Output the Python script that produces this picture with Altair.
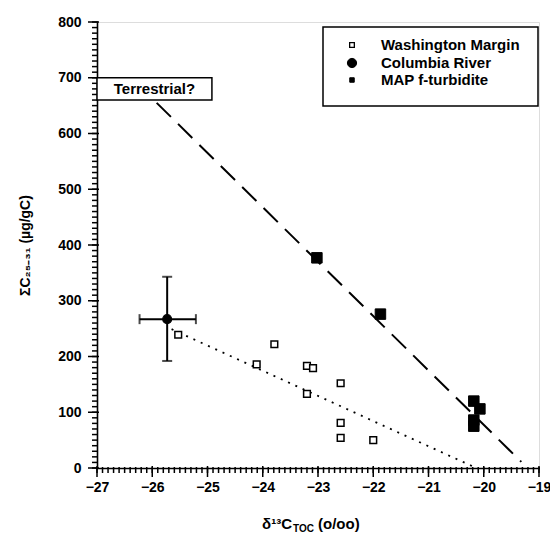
import altair as alt
import pandas as pd

# ---- data ----
wm_x = [-25.53, -24.11, -23.79, -23.20, -23.09, -23.20, -22.59, -22.59, -22.59, -22.00]
wm_y = [239, 186, 222, 183, 179, 133, 152, 81, 54, 50]

map_x = [-23.02, -21.87, -20.18, -20.07, -20.18, -20.18]
map_y = [377, 276, 120, 106, 86, 75]

cr_x = [-25.73]
cr_y = [267]
cr_xlo = [-26.23]
cr_xhi = [-25.21]
cr_ylo = [192]
cr_yhi = [343]

dash_x = [-25.92, -19.32]
dash_y = [655, 11]
dot_x = [-25.65, -20.18]
dot_y = [249, 2]

series = ["Washington Margin", "Columbia River", "MAP f-turbidite"]

box_x = [-27.0]
box_x2 = [-24.92]
box_y = [660]
box_y2 = [700]
box_label = ["Terrestrial?"]

# tick values (axis definition)
x_major = list(range(-27, -18))
x_minor = [round(-27 + i * 0.1, 1) for i in range(81)]
y_major = list(range(0, 801, 100))
y_minor = list(range(0, 801, 10))

FONT = "Liberation Sans"
W, H = 442, 446
X0, X1, Y0, Y1 = -27, -19, 0, 800
PX_X = (X1 - X0) / W   # data units per pixel
PX_Y = (Y1 - Y0) / H

# ---- tables ----
pts = pd.DataFrame({
    "x": wm_x + cr_x + map_x,
    "y": wm_y + cr_y + map_y,
    "series": [series[0]] * len(wm_x) + [series[1]] * len(cr_x) + [series[2]] * len(map_x),
})
err = pd.DataFrame({"x": cr_x, "y": cr_y, "xlo": cr_xlo, "xhi": cr_xhi, "ylo": cr_ylo, "yhi": cr_yhi})
dash_df = pd.DataFrame({"x": dash_x, "y": dash_y})
dot_df = pd.DataFrame({"x": dot_x, "y": dot_y})
box_df = pd.DataFrame({"x": box_x, "x2": box_x2, "y": box_y, "y2": box_y2, "label": box_label})
box_df["xc"] = (box_df["x"] + box_df["x2"]) / 2
box_df["yc"] = (box_df["y"] + box_df["y2"]) / 2
one = pd.DataFrame({"k": [0]})


def xtick_df(vals, out_px, in_px):
    return pd.DataFrame({"tx": [float(v) for v in vals],
                         "a": [Y0 + in_px * PX_Y] * len(vals),
                         "b": [Y0 - out_px * PX_Y] * len(vals)})


def ytick_df(vals, out_px, in_px):
    return pd.DataFrame({"ty": [float(v) for v in vals],
                         "a": [X0 + in_px * PX_X] * len(vals),
                         "b": [X0 - out_px * PX_X] * len(vals)})


xscale = alt.Scale(domain=[X0, X1], nice=False, zero=False)
yscale = alt.Scale(domain=[Y0, Y1], nice=False)

xaxis = alt.Axis(
    orient="bottom", values=x_major, title=None, format="d", ticks=False,
    labelOverlap=False, labelFlush=False, grid=False,
    labelFont=FONT, labelFontWeight="bold", labelFontSize=14, labelColor="black", labelPadding=12,
    domainColor="black", domainWidth=1.6,
)
yaxis = alt.Axis(
    orient="left", values=y_major, title="ΣC₂₅₋₃₁ (µg/gC)", format="d", ticks=False,
    labelOverlap=False, labelFlush=False, grid=False,
    labelFont=FONT, labelFontWeight="bold", labelFontSize=14, labelColor="black", labelPadding=16,
    titleFont=FONT, titleFontWeight="bold", titleFontSize=14, titleColor="black", titlePadding=25,
    domainColor="black", domainWidth=1.6,
)

X = alt.X("x:Q", scale=xscale, axis=xaxis)
Y = alt.Y("y:Q", scale=yscale, axis=yaxis)


def xticks(df):
    return alt.Chart(df).mark_rule(color="black", strokeWidth=1.5, clip=False).encode(
        x=alt.X("tx:Q", scale=xscale, axis=xaxis),
        y=alt.Y("a:Q", scale=yscale, axis=yaxis), y2="b:Q")


def yticks(df):
    return alt.Chart(df).mark_rule(color="black", strokeWidth=1.5, clip=False).encode(
        y=alt.Y("ty:Q", scale=yscale, axis=yaxis),
        x=alt.X("a:Q", scale=xscale, axis=xaxis), x2="b:Q")


tick_layers = [
    xticks(xtick_df(x_major, 9, 2)), xticks(xtick_df(x_minor, 5, 1)),
    yticks(ytick_df(y_major, 9, 2)), yticks(ytick_df(y_minor, 5, 1)),
]

dashed = alt.Chart(dash_df).mark_line(color="black", strokeWidth=2, strokeDash=[20, 10]).encode(x=X, y=Y)
dotted = alt.Chart(dot_df).mark_line(color="black", strokeWidth=1.8, strokeDash=[2, 6]).encode(x=X, y=Y)

box = alt.Chart(box_df).mark_rect(fill="white", stroke="black", strokeWidth=1.5).encode(
    x=X, x2="x2:Q", y=Y, y2="y2:Q")
box_text = alt.Chart(box_df).mark_text(font=FONT, fontWeight="bold", fontSize=15, color="black").encode(
    x=alt.X("xc:Q", scale=xscale, axis=xaxis), y=alt.Y("yc:Q", scale=yscale, axis=yaxis), text="label:N")

err_h = alt.Chart(err).mark_rule(color="black", strokeWidth=2).encode(x=alt.X("xlo:Q", scale=xscale, axis=xaxis), x2="xhi:Q", y=Y)
err_v = alt.Chart(err).mark_rule(color="black", strokeWidth=2).encode(x=X, y=alt.Y("ylo:Q", scale=yscale, axis=yaxis), y2="yhi:Q")
cap_l = alt.Chart(err).mark_tick(color="black", orient="vertical", size=10, thickness=2).encode(x=alt.X("xlo:Q", scale=xscale, axis=xaxis), y=Y)
cap_r = alt.Chart(err).mark_tick(color="black", orient="vertical", size=10, thickness=2).encode(x=alt.X("xhi:Q", scale=xscale, axis=xaxis), y=Y)
cap_b = alt.Chart(err).mark_tick(color="black", orient="horizontal", size=10, thickness=2).encode(x=X, y=alt.Y("ylo:Q", scale=yscale, axis=yaxis))
cap_t = alt.Chart(err).mark_tick(color="black", orient="horizontal", size=10, thickness=2).encode(x=X, y=alt.Y("yhi:Q", scale=yscale, axis=yaxis))

points = alt.Chart(pts).mark_point(stroke="black", opacity=1).encode(
    x=X, y=Y,
    shape=alt.Shape("series:N", scale=alt.Scale(domain=series, range=["square", "circle", "square"]), legend=None),
    fill=alt.Fill("series:N", scale=alt.Scale(domain=series, range=["white", "black", "black"]), legend=None),
    size=alt.Size("series:N", scale=alt.Scale(domain=series, range=[45, 110, 36]), legend=None),
    strokeWidth=alt.StrokeWidth("series:N", scale=alt.Scale(domain=series, range=[1.5, 1, 1]), legend=None),
)

# ---- legend box drawn by hand ----
LX0, LX1, LY0, LY1 = 226, 441, 5, 84
SYM_X, TXT_X = 255, 284
ROWS = [23, 41, 58]
leg_box = alt.Chart(one).mark_rect(fill="white", stroke="black", strokeWidth=1.5).encode(
    x=alt.value(LX0), x2=alt.value(LX1), y=alt.value(LY0), y2=alt.value(LY1))
leg_sym = [
    alt.Chart(one).mark_point(shape="square", fill="white", stroke="black", strokeWidth=1.3, size=22, opacity=1).encode(
        x=alt.value(SYM_X), y=alt.value(ROWS[0])),
    alt.Chart(one).mark_point(shape="circle", fill="black", stroke="black", strokeWidth=1, size=85, opacity=1).encode(
        x=alt.value(SYM_X), y=alt.value(ROWS[1])),
    alt.Chart(one).mark_point(shape="square", fill="black", stroke="black", strokeWidth=1, size=20, opacity=1).encode(
        x=alt.value(SYM_X), y=alt.value(ROWS[2])),
]
leg_txt = [
    alt.Chart(one).mark_text(font=FONT, fontWeight="bold", fontSize=15, color="black", align="left", baseline="middle").encode(
        x=alt.value(TXT_X), y=alt.value(r), text=alt.value(s))
    for s, r in zip(series, ROWS)
]

# x-axis title built from text pieces (subscript TOC)
t1 = alt.Chart(one).mark_text(font=FONT, fontWeight="bold", fontSize=15, color="black", align="right", baseline="alphabetic").encode(
    x=alt.value(195), y=alt.value(H + 61), text=alt.value("δ¹³C"))
t2 = alt.Chart(one).mark_text(font=FONT, fontWeight="bold", fontSize=10, color="black", align="left", baseline="alphabetic").encode(
    x=alt.value(196), y=alt.value(H + 64), text=alt.value("TOC"))
t3 = alt.Chart(one).mark_text(font=FONT, fontWeight="bold", fontSize=15, color="black", align="left", baseline="alphabetic").encode(
    x=alt.value(221), y=alt.value(H + 61), text=alt.value("(o/oo)"))

chart = alt.layer(
    *tick_layers,
    dashed, dotted, box, box_text, err_h, err_v, cap_l, cap_r, cap_b, cap_t, points,
    leg_box, *leg_sym, *leg_txt, t1, t2, t3,
).properties(
    width=W, height=H,
    padding={"left": 89, "top": 14, "right": 11, "bottom": 66},
    autosize="none",
).configure_view(stroke="black", strokeWidth=1.5).configure(background="white")

chart.save("out.html", embed_options={"renderer": "svg", "actions": False})
